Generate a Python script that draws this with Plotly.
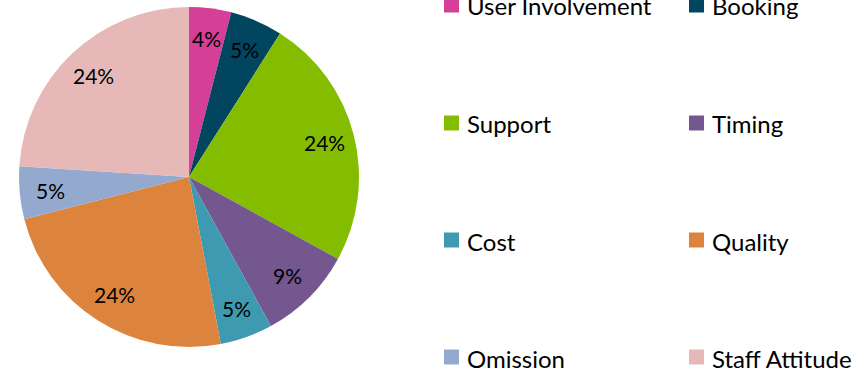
import math
import plotly.graph_objects as go

# Complaint categories and their share (%)
categories = ["User Involvement", "Booking", "Support", "Timing",
              "Cost", "Quality", "Omission", "Staff Attitude"]
shares = [4, 5, 24, 9, 5, 24, 5, 24]
colors = ["#D63F97", "#02455E", "#84BD00", "#74578F",
          "#3E9AB0", "#DC843D", "#93A9CE", "#E6B8B8"]

W, H = 868, 372
FONT = "Lato"

# pie placement (pixels)
cx, cy, r = 189, 177, 170

fig = go.Figure(go.Pie(
    labels=categories,
    values=shares,
    marker=dict(colors=colors, line=dict(width=0)),
    sort=False,
    direction="clockwise",
    rotation=0,
    textinfo="none",
    hoverinfo="label+percent",
    showlegend=False,
    domain=dict(x=[(cx - r) / W, (cx + r) / W],
                y=[1 - (cy + r) / H, 1 - (cy - r) / H]),
))

annotations = []
shapes = []

# percentage labels placed at the middle angle of each slice
total = sum(shares)
cum = 0
for v in shares:
    mid = (cum + v / 2) / total * 2 * math.pi
    cum += v
    lx = cx + 0.82 * r * math.sin(mid)
    ly = cy - 0.82 * r * math.cos(mid)
    annotations.append(dict(
        x=lx / W, y=1 - ly / H, xref="paper", yref="paper",
        text=f"{round(v / total * 100)}%", showarrow=False,
        xanchor="center", yanchor="middle",
        font=dict(family=FONT, size=21, color="#000000"),
    ))

# two-column legend
col_x = [444, 689]
row_y = [5, 123, 240, 357]
sq = 15
for i, (name, c) in enumerate(zip(categories, colors)):
    x0 = col_x[i % 2]
    yc = row_y[i // 2]
    shapes.append(dict(
        type="rect", xref="paper", yref="paper",
        x0=x0 / W, x1=(x0 + sq) / W,
        y0=1 - (yc + sq / 2) / H, y1=1 - (yc - sq / 2) / H,
        fillcolor=c, line=dict(width=0),
    ))
    annotations.append(dict(
        x=(x0 + sq + 6) / W, y=1 - (yc + 1) / H, xref="paper", yref="paper",
        text=name, showarrow=False, xanchor="left", yanchor="middle",
        font=dict(family=FONT, size=24, color="#000000"),
    ))

fig.update_layout(
    width=W, height=H,
    margin=dict(l=0, r=0, t=0, b=0),
    paper_bgcolor="#FFFFFF",
    plot_bgcolor="#FFFFFF",
    annotations=annotations,
    shapes=shapes,
)

fig.write_html("out.html")
